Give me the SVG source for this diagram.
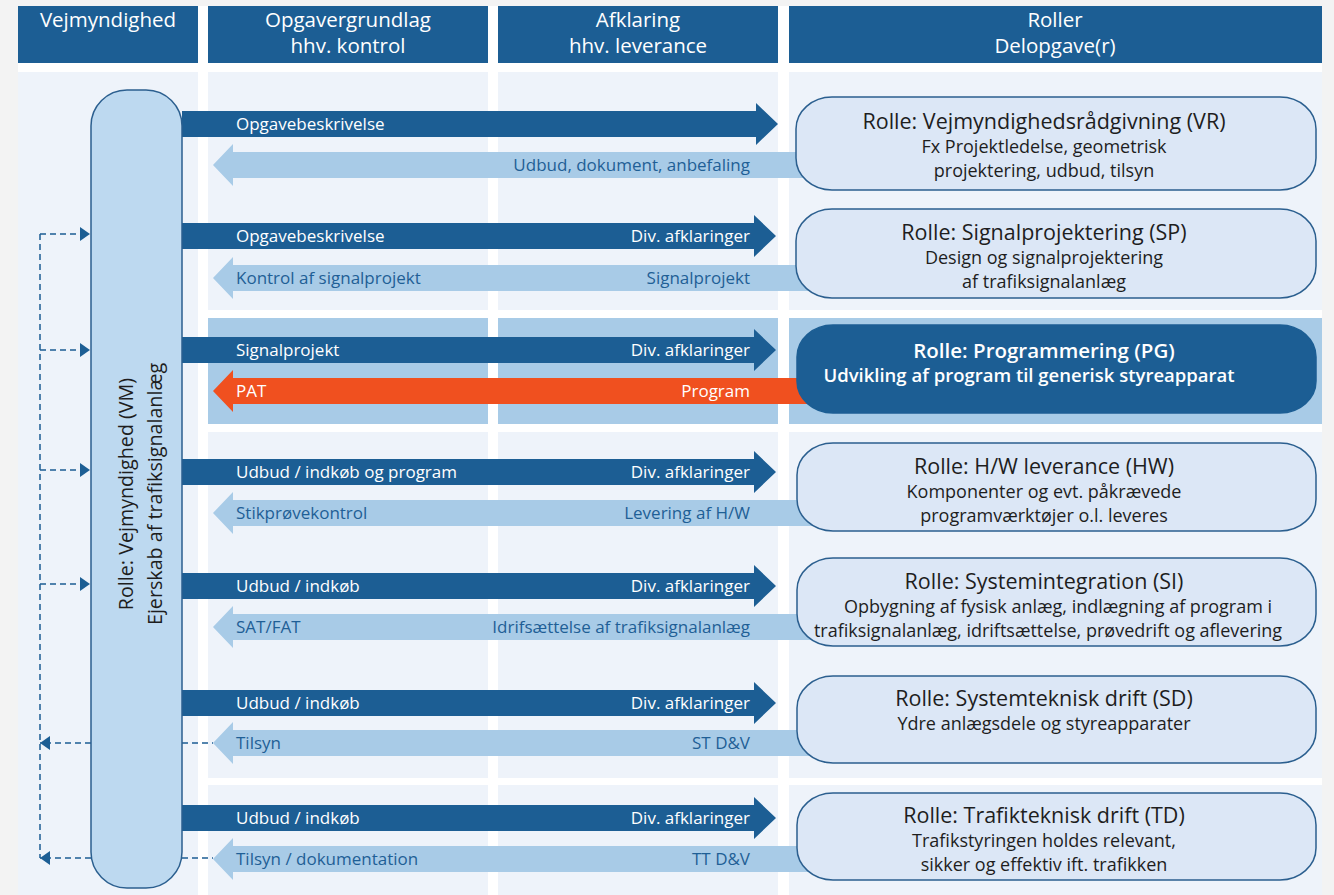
<svg xmlns="http://www.w3.org/2000/svg" width="1334" height="895" viewBox="0 0 1334 895">
<defs>
<style>
text{font-family:"Open Sans","Liberation Sans",sans-serif}
.hdr{fill:#1c5e94}
.band{fill:#eef3fa}
.hl{fill:#a8cbe7}
.ht{font-size:20.5px;fill:#fff;text-anchor:middle}
.dk{fill:#1c5e94}
.lt{fill:#a8cbe7}
.or{fill:#f0501f}
.lw{font-size:17px;fill:#fff}
.lb{font-size:17px;fill:#1f5f96}
.e{text-anchor:end}
.role{fill:#dce7f6;stroke:#2b5f8f;stroke-width:1.5}
.rolepg{fill:#1c5e94;stroke:#1c5e94;stroke-width:1.5}
.rt{font-size:21.5px;fill:#1e1e1e;text-anchor:middle}
.rs{font-size:18px;fill:#1e1e1e;text-anchor:middle}
.pt{font-size:20.5px;font-weight:600;fill:#fff;text-anchor:middle}
.ps{font-size:18.5px;font-weight:600;fill:#fff;text-anchor:middle}
.vm{fill:#bdd9f0;stroke:#2b5f8f;stroke-width:1.5}
.vt{font-size:19.7px;fill:#1e1e1e;text-anchor:middle}
.dash{stroke:#1c5e94;stroke-width:1.5;stroke-dasharray:6 4;fill:none}
</style>
<marker id="tri" viewBox="0 0 10 14" refX="10" refY="7" markerWidth="10" markerHeight="14" orient="auto" markerUnits="userSpaceOnUse">
<path d="M0,0 L10,7 L0,14 Z" fill="#1c5e94"/>
</marker>
</defs>

<rect x="0" y="0" width="1334" height="895" fill="#f3f3f3"/>
<rect x="18" y="6" width="1304" height="889" fill="#ffffff"/>

<g id="background">
<rect class="band" x="18" y="72" width="180" height="823"/>
<rect class="band" x="208" y="72" width="280" height="238"/>
<rect class="band" x="498" y="72" width="280" height="238"/>
<rect class="band" x="789" y="72" width="533" height="238"/>
<rect class="hl" x="208" y="318" width="280" height="106"/>
<rect class="hl" x="498" y="318" width="280" height="106"/>
<rect class="hl" x="789" y="318" width="533" height="106"/>
<rect class="band" x="208" y="432" width="280" height="346"/>
<rect class="band" x="498" y="432" width="280" height="346"/>
<rect class="band" x="789" y="432" width="533" height="346"/>
<rect class="band" x="208" y="785" width="280" height="110"/>
<rect class="band" x="498" y="785" width="280" height="110"/>
<rect class="band" x="789" y="785" width="533" height="110"/>
</g>

<g id="header-vejmyndighed">
<rect class="hdr" x="18" y="6" width="180" height="57"/>
<text class="ht" x="108" y="27">Vejmyndighed</text>
</g>
<g id="header-opgavegrundlag">
<rect class="hdr" x="208" y="6" width="280" height="57"/>
<text class="ht" x="348" y="27">Opgavergrundlag</text>
<text class="ht" x="348" y="53">hhv. kontrol</text>
</g>
<g id="header-afklaring">
<rect class="hdr" x="498" y="6" width="280" height="57"/>
<text class="ht" x="638" y="27">Afklaring</text>
<text class="ht" x="638" y="53">hhv. leverance</text>
</g>
<g id="header-roller">
<rect class="hdr" x="789" y="6" width="533" height="57"/>
<text class="ht" x="1055" y="27">Roller</text>
<text class="ht" x="1055" y="53">Delopgave(r)</text>
</g>

<g id="connectors">
<path class="dash" d="M40,234 V858"/>
<path class="dash" d="M40,234 H90" marker-end="url(#tri)"/>
<path class="dash" d="M40,350 H90" marker-end="url(#tri)"/>
<path class="dash" d="M40,470 H90" marker-end="url(#tri)"/>
<path class="dash" d="M40,584 H90" marker-end="url(#tri)"/>
<path class="dash" d="M91,743 H40" marker-end="url(#tri)"/>
<path class="dash" d="M91,858 H40" marker-end="url(#tri)"/>
<path class="dash" d="M182,743 H213"/>
<path class="dash" d="M182,858 H213"/>

<path class="dk" d="M182,111 H756 V103 L778,124 L756,145 V137 H182 Z"/>
<path class="lt" d="M213,165 L233,144 V152 H820 V178 H233 V186 Z"/>
<text class="lw" x="236" y="130">Opgavebeskrivelse</text>
<text class="lb e" x="750" y="171">Udbud, dokument, anbefaling</text>

<path class="dk" d="M182,223 H754 V215 L776,236 L754,257 V249 H182 Z"/>
<path class="lt" d="M213,278 L233,257 V265 H820 V291 H233 V299 Z"/>
<text class="lw" x="236" y="242">Opgavebeskrivelse</text>
<text class="lw e" x="750" y="242">Div. afklaringer</text>
<text class="lb" x="236" y="284">Kontrol af signalprojekt</text>
<text class="lb e" x="750" y="284">Signalprojekt</text>

<path class="dk" d="M182,337 H754 V329 L776,350 L754,371 V363 H182 Z"/>
<path class="or" d="M213,391 L233,370 V378 H820 V404 H233 V412 Z"/>
<text class="lw" x="236" y="356">Signalprojekt</text>
<text class="lw e" x="750" y="356">Div. afklaringer</text>
<text class="lw" x="236" y="397">PAT</text>
<text class="lw e" x="750" y="397">Program</text>

<path class="dk" d="M182,459 H754 V451 L776,472 L754,493 V485 H182 Z"/>
<path class="lt" d="M213,513 L233,492 V500 H820 V526 H233 V534 Z"/>
<text class="lw" x="236" y="478">Udbud / indkøb og program</text>
<text class="lw e" x="750" y="478">Div. afklaringer</text>
<text class="lb" x="236" y="519">Stikprøvekontrol</text>
<text class="lb e" x="750" y="519">Levering af H/W</text>

<path class="dk" d="M182,573 H754 V565 L776,586 L754,607 V599 H182 Z"/>
<path class="lt" d="M213,627 L233,606 V614 H820 V640 H233 V648 Z"/>
<text class="lw" x="236" y="592">Udbud / indkøb</text>
<text class="lw e" x="750" y="592">Div. afklaringer</text>
<text class="lb" x="236" y="633">SAT/FAT</text>
<text class="lb e" x="750" y="633">Idrifsættelse af trafiksignalanlæg</text>

<path class="dk" d="M182,690 H754 V682 L776,703 L754,724 V716 H182 Z"/>
<path class="lt" d="M213,743 L233,722 V730 H820 V756 H233 V764 Z"/>
<text class="lw" x="236" y="709">Udbud / indkøb</text>
<text class="lw e" x="750" y="709">Div. afklaringer</text>
<text class="lb" x="236" y="749">Tilsyn</text>
<text class="lb e" x="750" y="749">ST D&amp;V</text>

<path class="dk" d="M182,805 H754 V797 L776,818 L754,839 V831 H182 Z"/>
<path class="lt" d="M213,859 L233,838 V846 H820 V872 H233 V880 Z"/>
<text class="lw" x="236" y="824">Udbud / indkøb</text>
<text class="lw e" x="750" y="824">Div. afklaringer</text>
<text class="lb" x="236" y="865">Tilsyn / dokumentation</text>
<text class="lb e" x="750" y="865">TT D&amp;V</text>
</g>

<g id="node-vm">
<rect class="vm" x="91" y="90" width="91" height="798" rx="36" ry="36"/>
<text class="vt" transform="translate(133,494) rotate(-90)">Rolle: Vejmyndighed (VM)</text>
<text class="vt" transform="translate(162,494) rotate(-90)">Ejerskab af trafiksignalanlæg</text>
</g>

<g id="node-vr">
<rect class="role" x="796" y="97" width="520" height="93" rx="36" ry="32"/>
<text class="rt" x="1044" y="129">Rolle: Vejmyndighedsrådgivning (VR)</text>
<text class="rs" x="1044" y="153">Fx Projektledelse, geometrisk</text>
<text class="rs" x="1044" y="177">projektering, udbud, tilsyn</text>
</g>
<g id="node-sp">
<rect class="role" x="796" y="209" width="520" height="89" rx="36" ry="32"/>
<text class="rt" x="1044" y="240">Rolle: Signalprojektering (SP)</text>
<text class="rs" x="1044" y="264">Design og signalprojektering</text>
<text class="rs" x="1044" y="288">af trafiksignalanlæg</text>
</g>
<g id="node-pg">
<rect class="rolepg" x="797" y="325" width="519" height="88" rx="36" ry="32"/>
<text class="pt" x="1044" y="358">Rolle: Programmering (PG)</text>
<text class="ps" x="1029" y="382">Udvikling af program til generisk styreapparat</text>
</g>
<g id="node-hw">
<rect class="role" x="797" y="443" width="519" height="88" rx="36" ry="32"/>
<text class="rt" x="1044" y="474">Rolle: H/W leverance (HW)</text>
<text class="rs" x="1044" y="498">Komponenter og evt. påkrævede</text>
<text class="rs" x="1044" y="522">programværktøjer o.l. leveres</text>
</g>
<g id="node-si">
<rect class="role" x="797" y="558" width="519" height="88" rx="36" ry="32"/>
<text class="rt" x="1044" y="589">Rolle: Systemintegration (SI)</text>
<text class="rs" x="1058" y="613">Opbygning af fysisk anlæg, indlægning af program i</text>
<text class="rs" x="1048" y="637">trafiksignalanlæg, idriftsættelse, prøvedrift og aflevering</text>
</g>
<g id="node-sd">
<rect class="role" x="797" y="676" width="519" height="87" rx="36" ry="32"/>
<text class="rt" x="1044" y="706">Rolle: Systemteknisk drift (SD)</text>
<text class="rs" x="1044" y="730">Ydre anlægsdele og styreapparater</text>
</g>
<g id="node-td">
<rect class="role" x="797" y="793" width="519" height="87" rx="36" ry="32"/>
<text class="rt" x="1044" y="823">Rolle: Trafikteknisk drift (TD)</text>
<text class="rs" x="1044" y="847">Trafikstyringen holdes relevant,</text>
<text class="rs" x="1044" y="871">sikker og effektiv ift. trafikken</text>
</g>
</svg>
